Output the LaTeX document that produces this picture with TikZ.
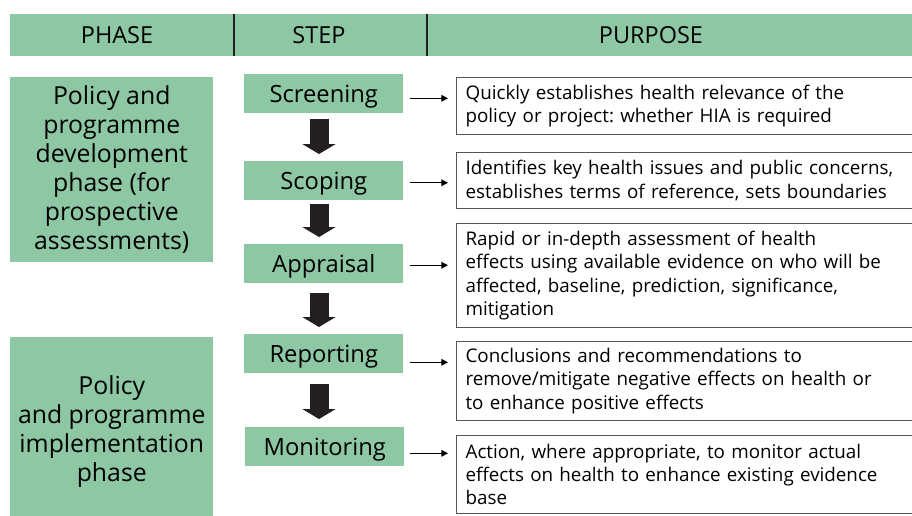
\documentclass[tikz,border=0pt]{standalone}
\usepackage{fontspec}
\setmainfont{Open Sans}
\frenchspacing
\usetikzlibrary{arrows.meta}
\definecolor{hiagreen}{RGB}{141,199,164}
\definecolor{arrowdark}{RGB}{35,31,32}
\definecolor{boxgray}{RGB}{85,85,85}
\tikzset{
  hdrtext/.style={font=\fontsize{17.6}{20}\selectfont, text=black, inner sep=0pt},
  phasebox/.style={fill=hiagreen, anchor=north west, inner sep=0pt, align=center,
     minimum width=152.25pt, font=\fontsize{18.6}{21.75}\selectfont},
  stepbox/.style={fill=hiagreen, anchor=north west, inner sep=0pt, align=center, text depth=0pt,
     minimum width=119.25pt, minimum height=29.25pt, font=\fontsize{17.8}{21}\selectfont},
  purposebox/.style={draw=boxgray, line width=0.9pt, anchor=north west, inner xsep=6.75pt, inner ysep=0pt,
     text width=334.5pt, align=left, font=\fontsize{14.1}{17.4}\selectfont},
  blockarrow/.style={draw=arrowdark, line width=14.25pt, -{Triangle[length=7.5pt,width=24.75pt]}},
  thinarrow/.style={draw=black, line width=0.9pt, -{Triangle[length=5pt,width=5pt]}},
}
\begin{document}
\begin{tikzpicture}[x=0.75pt,y=-0.75pt]
\useasboundingbox (0,0) rectangle (912,515);
\clip (0,0) rectangle (912,515);
% header
\node[fill=hiagreen, anchor=north west, minimum width=686.25pt, minimum height=31.5pt, inner sep=0pt] (hdr) at (10,14) {};
\draw[arrowdark, line width=1.5pt] (234,14) coordinate (d1a) -- (234,56) coordinate (d1b);
\draw[arrowdark, line width=1.5pt] (427,14) coordinate (d2a) -- (427,56) coordinate (d2b);
\node[hdrtext] (hphase) at (117,35) {PHASE};
\node[hdrtext] (hstep) at (319,35) {STEP};
\node[hdrtext] (hpurpose) at (651,35) {PURPOSE};
% phase boxes
\node[phasebox, minimum height=138.75pt] (ph1) at (10,77) {Policy and\\programme\\development\\phase (for\\prospective\\assessments)};
\node[phasebox, minimum height=141pt] (ph2) at (10,337) {Policy\\and programme\\implementation\\phase};
% step boxes
\node[stepbox] (s1) at (244,74) {Screening};
\node[stepbox] (s2) at (244,161) {Scoping};
\node[stepbox] (s3) at (244,244) {Appraisal};
\node[stepbox] (s4) at (244,334) {Reporting};
\node[stepbox] (s5) at (245,427) {Monitoring};
% purpose boxes
\node[purposebox, minimum height=42.75pt] (p1) at (456,77) {Quickly establishes health relevance of the\\policy or project: whether HIA is required};
\node[purposebox, minimum height=42pt] (p2) at (456,152) {Identifies key health issues and public concerns,\\establishes terms of reference, sets boundaries};
\node[purposebox, minimum height=78pt] (p3) at (456,223) {Rapid or in-depth assessment of health\\effects using available evidence on who will be\\affected, baseline, prediction, significance,\\mitigation};
\node[purposebox, minimum height=59.25pt] (p4) at (456,341) {Conclusions and recommendations to\\remove/mitigate negative effects on health or\\to enhance positive effects};
\node[purposebox, minimum height=58.5pt] (p5) at (456,435) {Action, where appropriate, to monitor actual\\effects on health to enhance existing evidence\\base};
% block arrows
\coordinate (ax) at (319,0);
\draw[blockarrow, shorten <=3.75pt, shorten >=5.25pt] (s1.south -| ax) -- (s2.north -| ax);
\draw[blockarrow, shorten <=2.25pt, shorten >=5.25pt] (s2.south -| ax) -- (s3.north -| ax);
\draw[blockarrow, shorten <=6.75pt, shorten >=5.25pt] (s3.south -| ax) -- (s4.north -| ax);
\draw[blockarrow, shorten <=7.5pt, shorten >=6pt] (s4.south -| ax) -- (s5.north -| ax);
% thin arrows
\draw[thinarrow, shorten <=4.5pt, shorten >=6pt] ([yshift=-3.4pt]s1.east) -- ([yshift=-3.4pt]s1.east -| p1.west);
\draw[thinarrow, shorten <=4.5pt, shorten >=6pt] ([yshift=-1.5pt]s2.east) -- ([yshift=-1.5pt]s2.east -| p2.west);
\draw[thinarrow, shorten <=4.5pt, shorten >=6pt] ([yshift=-1.1pt]s3.east) -- ([yshift=-1.1pt]s3.east -| p3.west);
\draw[thinarrow, shorten <=4.5pt, shorten >=6pt] ([yshift=-6.4pt]s4.east) -- ([yshift=-6.4pt]s4.east -| p4.west);
\draw[thinarrow, shorten <=3.75pt, shorten >=6pt] ([yshift=-4.9pt]s5.east) -- ([yshift=-4.9pt]s5.east -| p5.west);
\end{tikzpicture}
\end{document}
